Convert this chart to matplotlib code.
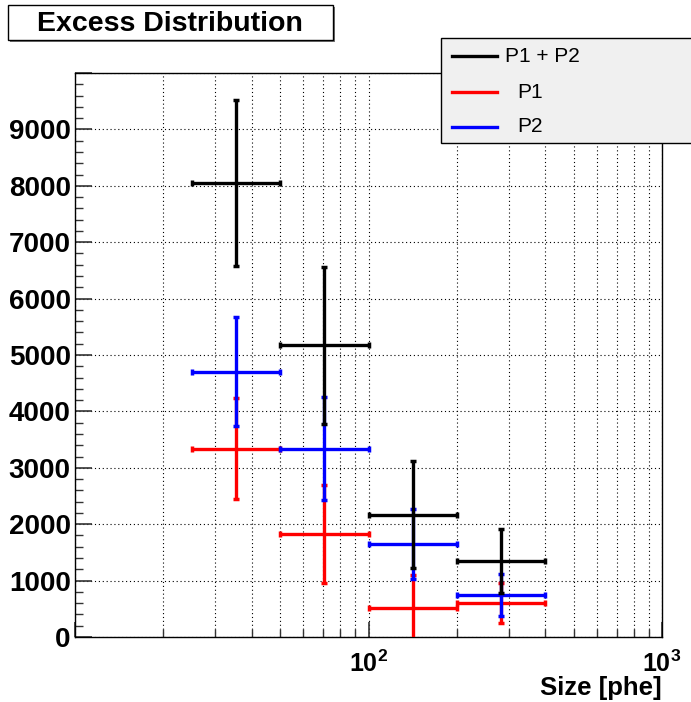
import numpy as np
import matplotlib
matplotlib.use("Agg")
import matplotlib.pyplot as plt
from matplotlib.patches import Rectangle
from matplotlib.lines import Line2D
from matplotlib.ticker import FixedLocator, NullFormatter, FixedFormatter

plt.rcParams['font.family'] = ['Liberation Sans', 'DejaVu Sans']
plt.rcParams['mathtext.fontset'] = 'custom'
plt.rcParams['mathtext.rm'] = 'Liberation Sans:bold'
plt.rcParams['mathtext.bf'] = 'Liberation Sans:bold'

# Size bins [phe]
bin_lo = [25, 50, 100, 200]
bin_hi = [50, 100, 200, 400]
bin_center = [35.4, 70.7, 141.4, 282.8]

# Excess events
sum_vals = [8050, 5170, 2170, 1350]
sum_err = [1465, 1390, 950, 570]
p1_vals = [3340, 1830, 515, 605]
p1_err = [900, 870, 590, 355]
p2_vals = [4705, 3340, 1650, 745]
p2_err = [960, 910, 620, 380]

W, H = 691, 702
fig = plt.figure(figsize=(W / 100, H / 100), dpi=100)
ax = fig.add_axes([75 / W, (H - 637) / H, (662 - 75) / W, (637 - 73) / H])

xc = np.array(bin_center)
xerr = [xc - np.array(bin_lo), np.array(bin_hi) - xc]

def draw(vals, err, col):
    ax.errorbar(xc, vals, xerr=xerr, yerr=err, fmt='none', ecolor=col,
                elinewidth=2.4, capsize=2.2, capthick=2.5, zorder=3)

draw(p1_vals, p1_err, '#ff0000')
draw(p2_vals, p2_err, '#0000ff')
draw(sum_vals, sum_err, 'black')

ax.set_xscale('log')
ax.set_xlim(10, 1000)
ax.set_ylim(0, 10000)

# x ticks
ax.xaxis.set_major_locator(FixedLocator([10, 100, 1000]))
ax.xaxis.set_major_formatter(FixedFormatter(['', r'$\mathbf{10^{2}}$', r'$\mathbf{10^{3}}$']))
minors = [m * d for d in (10, 100) for m in range(2, 10)]
ax.xaxis.set_minor_locator(FixedLocator(minors))
ax.xaxis.set_minor_formatter(NullFormatter())

# y ticks
ax.yaxis.set_major_locator(FixedLocator(np.arange(0, 10001, 1000)))
ax.yaxis.set_major_formatter(FixedFormatter([str(v) for v in range(0, 10000, 1000)] + ['']))
ax.yaxis.set_minor_locator(FixedLocator(np.arange(0, 10001, 200)))

ax.tick_params(axis='both', which='both', direction='in', color='#333333',
               top=False, right=False)
ax.tick_params(axis='y', which='major', length=12, width=1.2, pad=3,
               labelsize=20)
ax.tick_params(axis='y', which='minor', length=6, width=1)
ax.tick_params(axis='x', which='major', length=11, width=1.2, pad=10,
               labelsize=18)
ax.tick_params(axis='x', which='minor', length=5.5, width=1)
for lab in ax.get_yticklabels():
    lab.set_fontweight('bold')

ax.grid(True, which='major', axis='both', color='black', linestyle=(0, (1, 2.5)), linewidth=0.8)
ax.grid(True, which='minor', axis='x', color='black', linestyle=(0, (1, 2.5)), linewidth=0.8)
for s in ax.spines.values():
    s.set_linewidth(1)
    s.set_color('black')

ax.set_xlabel('Size [phe]', fontsize=18.5, fontweight='bold', loc='right', labelpad=-1)

# title box
fig.patches.append(Rectangle((10 / W, 1 - 42 / H), 325 / W, 35 / H, transform=fig.transFigure,
                             facecolor='#777777', edgecolor='none', zorder=4))
fig.patches.append(Rectangle((8 / W, 1 - 40 / H), 325 / W, 35 / H, transform=fig.transFigure,
                             facecolor='white', edgecolor='black', linewidth=1, zorder=5))
fig.text(170 / W, 1 - 24 / H, 'Excess Distribution', fontsize=20.5, fontweight='bold',
         ha='center', va='center', zorder=6)

# legend box
fig.patches.append(Rectangle((441 / W, 1 - 143 / H), 260 / W, 105 / H, transform=fig.transFigure,
                             facecolor='#f0f0f0', edgecolor='black', linewidth=1, zorder=5))
leg = [('P1 + P2', 'black', 56, 505), ('P1', '#ff0000', 92, 517), ('P2', '#0000ff', 127, 517)]
for txt, col, yy, tx in leg:
    fig.lines.append(Line2D([452 / W, 497 / W], [1 - yy / H, 1 - yy / H], transform=fig.transFigure,
                            color=col, linewidth=2.4, zorder=6))
    fig.text(tx / W, 1 - yy / H, txt, fontsize=15, ha='left', va='center', zorder=6)

fig.savefig('out.png', dpi=100)
